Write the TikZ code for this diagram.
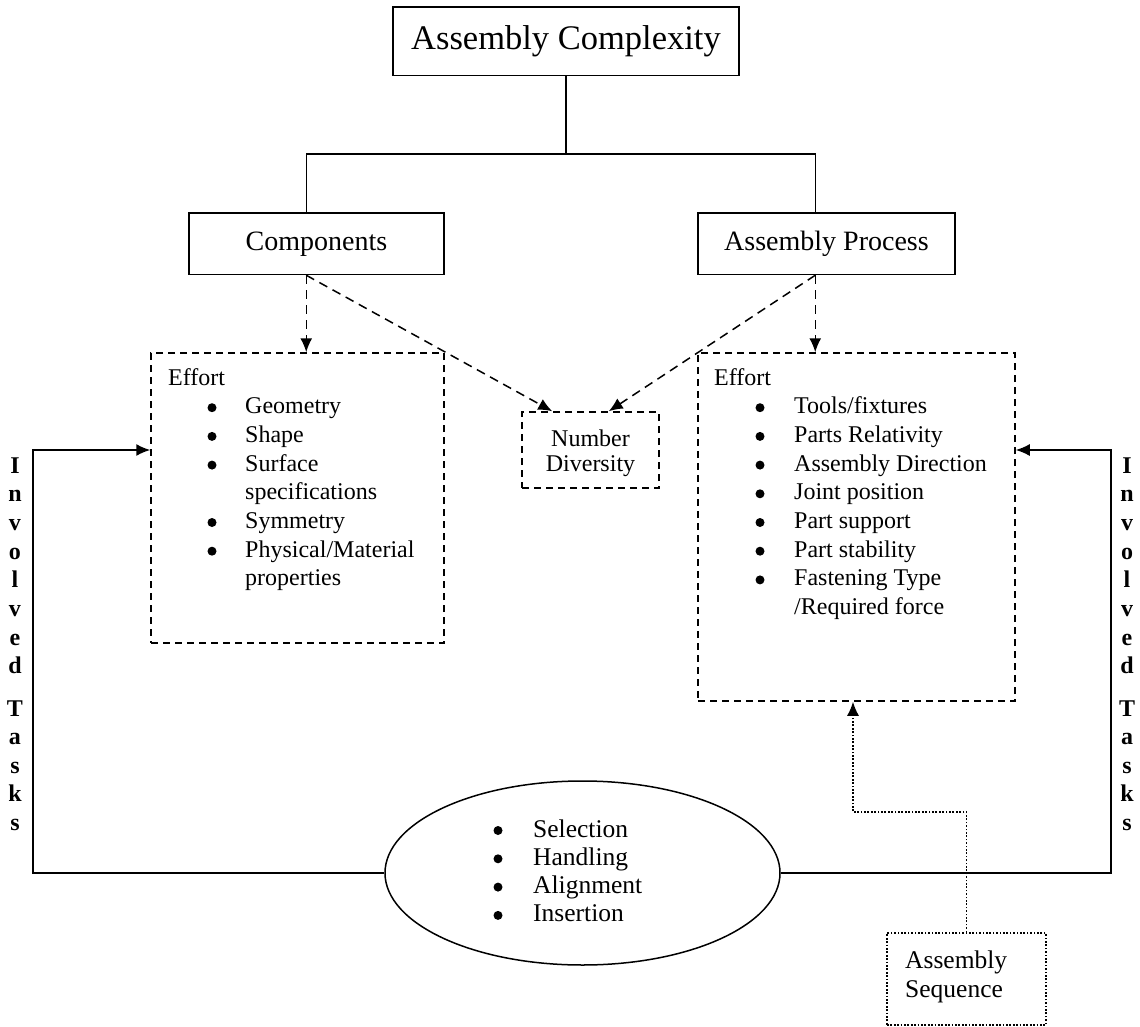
\documentclass[tikz,border=0pt]{standalone}
\usepackage{fontspec}
\setmainfont{Liberation Serif}
\usetikzlibrary{arrows.meta,shapes.geometric,calc}
\tikzset{
  boxline/.style={draw, line width=1.5pt, inner sep=0pt},
  dashbox/.style={boxline, dash pattern=on 7pt off 5pt},
  dotbox/.style={boxline, dash pattern=on 1.7pt off 1.7pt},
  conn/.style={line width=1.5pt},
  tip/.style={-{Latex[length=14pt,width=12pt]}},
  dconn/.style={conn, tip, dash pattern=on 9pt off 6pt},
  dotconn/.style={conn, tip, dash pattern=on 1.7pt off 1.7pt},
  txt/.style={inner sep=0pt, anchor=base west, font=\fontsize{24}{28.7}\selectfont},
  bul/.style={circle, fill, inner sep=0pt, minimum size=9pt},
  vlet/.style={inner sep=0pt, anchor=base, font=\fontsize{24}{28}\selectfont\bfseries},
}
\begin{document}
\begin{tikzpicture}[x=1pt,y=-1pt]
\useasboundingbox (0,0) rectangle (1140,1027);
% boxes
\node[boxline, minimum width=346pt, minimum height=68.5pt, font=\fontsize{34.5}{40}\selectfont] (title) at (566,41.25) {Assembly Complexity};
\node[boxline, minimum width=255pt, minimum height=61.5pt, font=\fontsize{28}{32}\selectfont] (comp) at (316.5,243.75) {Components};
\node[boxline, minimum width=257pt, minimum height=61.5pt, font=\fontsize{28}{32}\selectfont] (proc) at (826.5,243.75) {Assembly Process};
\node[dashbox, minimum width=293pt, minimum height=290pt] (effL) at (297.5,498) {};
\node[dashbox, minimum width=317pt, minimum height=348pt] (effR) at (856.5,527) {};
\node[dashbox, minimum width=137pt, minimum height=76pt] (nd) at (590.5,450) {};
\node[boxline, ellipse, minimum width=395pt, minimum height=184pt] (ell) at (582.5,873) {};
\node[dotbox, minimum width=159pt, minimum height=92pt] (seq) at (966.5,979) {};
% texts: Number Diversity
\node[inner sep=0pt, anchor=base, font=\fontsize{24}{28}\selectfont] (nd1) at (590.5,446) {Number};
\node[inner sep=0pt, anchor=base, font=\fontsize{24}{28}\selectfont] (nd2) at (590.5,471) {Diversity};
% Assembly Sequence
\node[inner sep=0pt, anchor=base west, font=\fontsize{25.5}{29}\selectfont] (sq1) at (905,968) {Assembly};
\node[inner sep=0pt, anchor=base west, font=\fontsize{25.5}{29}\selectfont] (sq2) at (905,997) {Sequence};
% left effort
\node[txt] (le0) at (168,385) {Effort};
\foreach \t/\b [count=\i] in {{Geometry}/1,{Shape}/1,{Surface}/1,{specifications}/0,{Symmetry}/1,{Physical\slash Material}/1,{properties}/0}{
  \node[txt] (le\i) at (245,{385+28.7*\i}) {\t};
  \ifnum\b=1 \node[bul] (lb\i) at (212,{385+28.7*\i-6}) {}; \fi
}
% right effort
\node[txt] (re0) at (714,385) {Effort};
\foreach \t/\b [count=\i] in {{Tools\slash fixtures}/1,{Parts Relativity}/1,{Assembly Direction}/1,{Joint position}/1,{Part support}/1,{Part stability}/1,{Fastening Type}/1,{\slash Required force}/0}{
  \node[txt] (re\i) at (794,{385+28.7*\i}) {\t};
  \ifnum\b=1 \node[bul] (rb\i) at (760,{385+28.7*\i-6}) {}; \fi
}
% ellipse text
\foreach \t [count=\i from 0] in {Selection,Handling,Alignment,Insertion}{
  \node[inner sep=0pt, anchor=base west, font=\fontsize{25.5}{28.3}\selectfont] (et\i) at (533,{837+28.3*\i}) {\t};
  \node[bul] (eb\i) at (498,{837+28.3*\i-6.5}) {};
}
% vertical labels
\foreach \c [count=\i from 0] in {I,n,v,o,l,v,e,d}{
  \node[vlet] (vl\i) at (15,{473+28.7*\i}) {\c};
  \node[vlet] (vr\i) at (1127,{473+28.7*\i}) {\c};
}
\foreach \c [count=\i from 0] in {T,a,s,k,s}{
  \node[vlet] (wl\i) at (15,{716+28.5*\i}) {\c};
  \node[vlet] (wr\i) at (1127,{716+28.5*\i}) {\c};
}
% tree connectors
\coordinate (hy) at (0,154);
\coordinate (cb) at ($(comp.south west)+(118,0)$);
\coordinate (ct) at ($(comp.north west)+(118,0)$);
\coordinate (pb) at ($(proc.south west)+(118,0)$);
\coordinate (pt) at ($(proc.north west)+(118,0)$);
\draw[conn] (title.south) -- (title.south |- hy);
\draw[conn] (ct) -- (ct |- hy) -- (pt |- hy) -- (pt);
% dashed arrows
\draw[dconn] (cb) -- (cb |- effL.north);
\draw[dconn] (cb) -- ($(nd.north west)+(31,0)$);
\draw[dconn] (pb) -- (pb |- effR.north);
\draw[dconn] (pb) -- ($(nd.north east)+(-51,0)$);
% involved tasks
\coordinate (ay) at (0,450);
\coordinate (lx) at (33,0);
\coordinate (rx) at (1111,0);
\draw[conn, tip] (ell.west) -- (ell.west -| lx) -- (lx |- ay) -- (effL.west |- ay);
\draw[conn, tip] (ell.east) -- (ell.east -| rx) -- (rx |- ay) -- (effR.east |- ay);
% assembly sequence
\coordinate (dturn) at (853,812);
\draw[dotconn] (seq.north) -- (seq.north |- dturn) -- (dturn) -- (dturn |- effR.south);
\end{tikzpicture}
\end{document}
